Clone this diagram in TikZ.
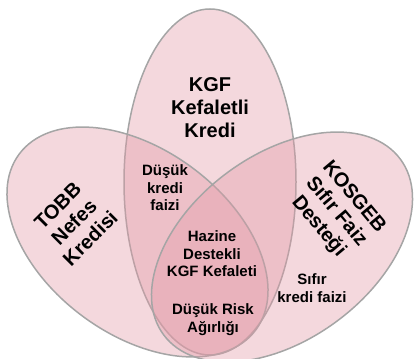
\documentclass[tikz,border=0pt]{standalone}
\usepackage{fontspec}
\setmainfont{Liberation Sans}
\definecolor{vfill}{RGB}{226,154,167}
\definecolor{vline}{RGB}{165,165,165}
\tikzset{
  venn/.style={fill=vfill, fill opacity=0.385, draw=vline, draw opacity=1, line width=1.5pt},
  big/.style={font=\fontsize{20}{23}\selectfont\bfseries, align=center, inner sep=0pt, text=black},
  small/.style={font=\fontsize{15}{17.5}\selectfont\bfseries, align=center, inner sep=0pt, text=black}
}
\begin{document}
\begin{tikzpicture}[x=1pt,y=-1pt]
\useasboundingbox (0,0) rectangle (414,358);
% ellipses
\path[venn] (210,182) ellipse [x radius=86, y radius=173];
\path[venn] (137.5,242) ellipse [x radius=147.4, y radius=92.3, rotate=-36.6];
\path[venn] (282,247) ellipse [x radius=147.4, y radius=92.3, rotate=36.6];
% texts
\node[big] (kgf) at (210,107.5) {KGF\\Kefaletli\\Kredi};
\node[big, rotate=45] (tobb) at (74,222) {TOBB\\Nefes\\Kredisi};
\node[big, rotate=-50] (kosgeb) at (336,212) {KOSGEB\\Sıfır Faiz\\Desteği};
\node[small] (dkf) at (165,188) {Düşük\\kredi\\faizi};
\node[small] (hazine) at (212,254) {Hazine\\Destekli\\KGF Kefaleti};
\node[small] (risk) at (213,319.5) {Düşük Risk\\Ağırlığı};
\node[small] (sifir) at (312,288) {Sıfır\\kredi faizi};
\end{tikzpicture}
\end{document}
